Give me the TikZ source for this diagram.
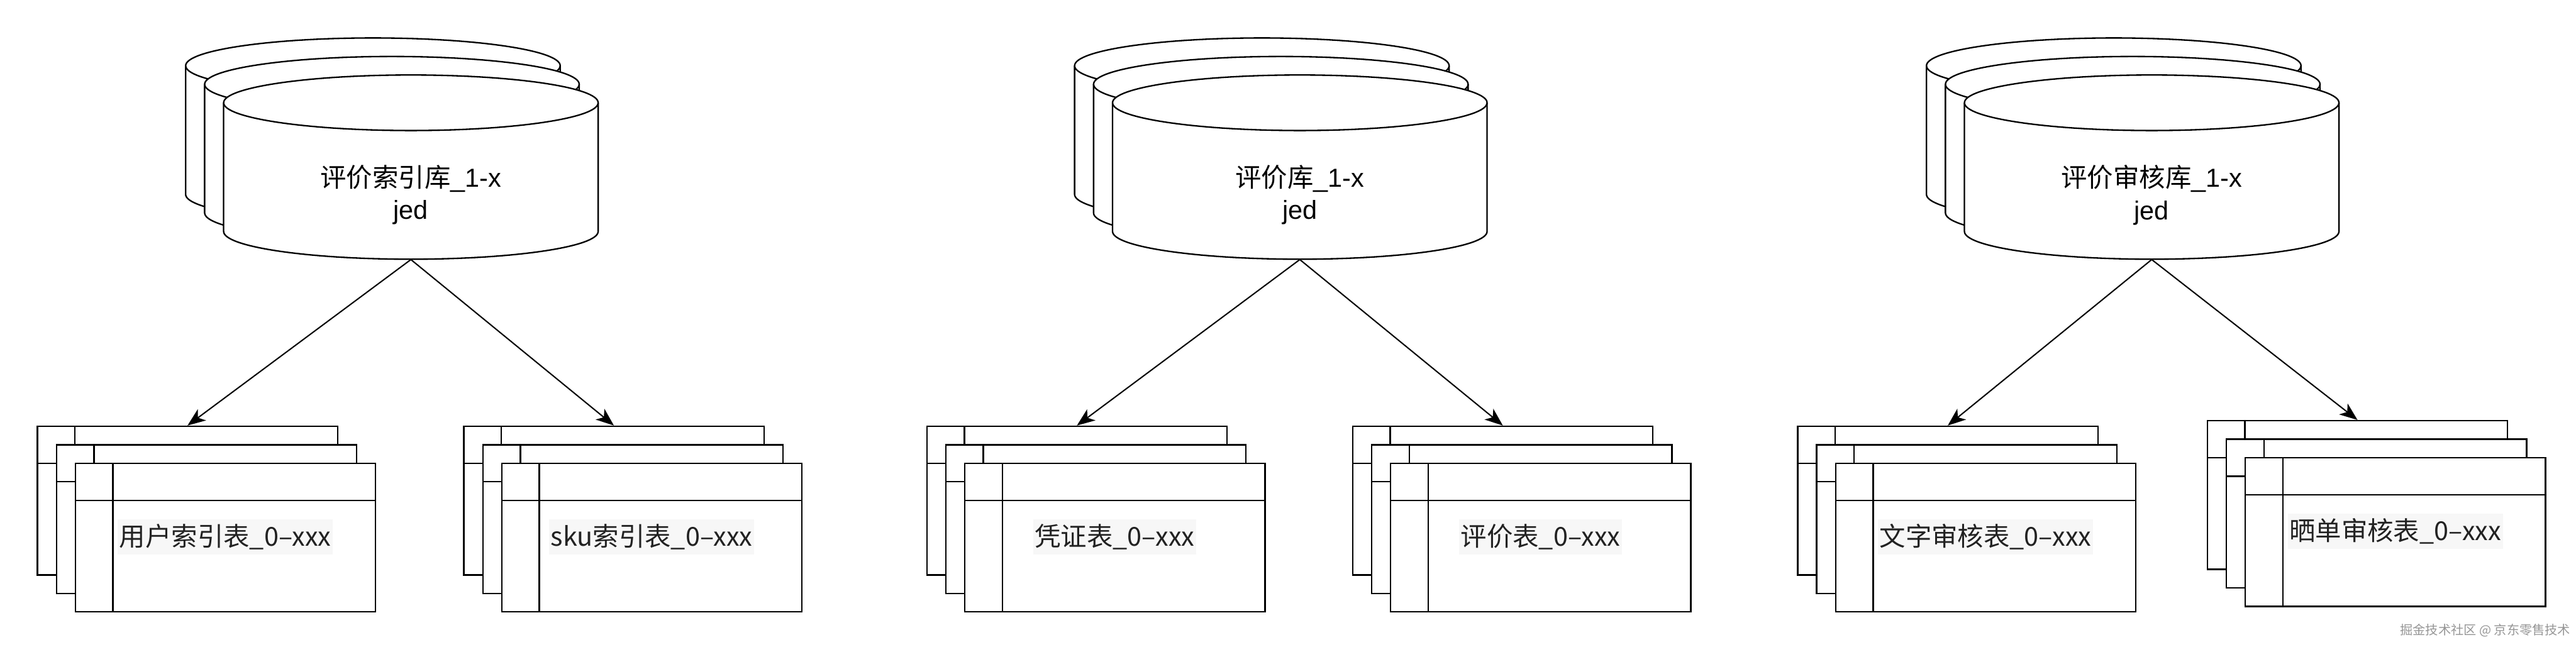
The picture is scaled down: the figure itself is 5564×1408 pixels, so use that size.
\documentclass[tikz,border=0pt]{standalone}
\usepackage{fontspec}
\setmainfont{Liberation Sans}
\newfontfamily\cjk{Noto Sans CJK SC}
\usepackage{tikz}
\usetikzlibrary{arrows.meta}
\definecolor{LabelBg}{RGB}{247,247,247}
\definecolor{LabelInk}{RGB}{34,34,34}
\definecolor{MarkGray}{RGB}{150,150,150}

% one disk of a database stack: #1 left edge, #2 centre of the top ellipse
\newcommand{\dbdisk}[2]{%
  \draw[line width=0.9pt,fill=white] (#1,#2) -- ++(0,278)
    arc[start angle=180,end angle=0,x radius=404.5,y radius=60] -- ++(0,-278)
    arc[start angle=0,end angle=-180,x radius=404.5,y radius=60] -- cycle;
  \draw[line width=0.9pt] (#1,#2) arc[start angle=180,end angle=0,x radius=404.5,y radius=60];}

\begin{document}
\begin{tikzpicture}[x=0.01cm,y=-0.01cm,>={Stealth[length=11pt,width=8.5pt,inset=3pt]},
  dblabel/.style={minimum width=8.09cm,minimum height=2.78cm,inner sep=0pt,align=center,
    font=\fontsize{16pt}{20pt}\selectfont},
  tblbox/.style={draw,fill=white,line width=0.9pt,minimum width=6.48cm,minimum height=3.21cm,inner sep=0pt,
    path picture={
      \draw[line width=0.9pt] ([xshift=0.81cm]path picture bounding box.north west) -- ([xshift=0.81cm]path picture bounding box.south west);
      \draw[line width=0.9pt] ([yshift=-0.8cm]path picture bounding box.north west) -- ([yshift=-0.8cm]path picture bounding box.north east);}},
  tbllabel/.style={fill=LabelBg,text=LabelInk,inner xsep=1pt,inner ysep=3pt,font=\cjk\fontsize{16pt}{19pt}\selectfont},
  link/.style={->,line width=0.8pt}]
\useasboundingbox (0,0) rectangle (5564,1408);

% databases
\foreach \L in {483,2403,4243}
  \foreach \k in {2,1,0}
    {\dbdisk{\L-41*\k}{222-40*\k}}
\node[dblabel] (idxdb) at (887.5,421) {{\cjk 评价索引库}\_1-x\\jed};
\node[dblabel] (cmtdb) at (2807.5,421) {{\cjk 评价库}\_1-x\\jed};
\node[dblabel] (auddb) at (4647.5,421) {{\cjk 评价审核库}\_1-x\\jed};

% tables, three sheets each
\foreach \X/\Y/\nm in {81/921/usr,1002/921/sku,2002/921/vch,2922/921/cmt,3883/921/txt,4768/909/pic}
  \foreach \k in {0,1,2}
    \node[tblbox] (\nm\k) at (\X+41*\k+324,\Y+40*\k+160.5) {};

\node[tbllabel] (usrlab) at (486.5,1160) {用户索引表\_0–xxx};
\node[tbllabel] (skulab) at (1407.5,1160) {sku索引表\_0–xxx};
\node[tbllabel] (vchlab) at (2407.5,1160) {凭证表\_0–xxx};
\node[tbllabel] (cmtlab) at (3327.5,1160) {评价表\_0–xxx};
\node[tbllabel] (txtlab) at (4288.5,1160) {文字审核表\_0–xxx};
\node[tbllabel] (piclab) at (5173.5,1148) {晒单审核表\_0–xxx};

\draw[link] (idxdb.south) -- (usr0.north);
\draw[link] (idxdb.south) -- (sku0.north);
\draw[link] (cmtdb.south) -- (vch0.north);
\draw[link] (cmtdb.south) -- (cmt0.north);
\draw[link] (auddb.south) -- (txt0.north);
\draw[link] (auddb.south) -- (pic0.north);

\node[text=MarkGray,font=\cjk\fontsize{7.8pt}{9pt}\selectfont] (jdmark) at (5368,1362) {掘金技术社区 @ 京东零售技术};
\end{tikzpicture}
\end{document}
